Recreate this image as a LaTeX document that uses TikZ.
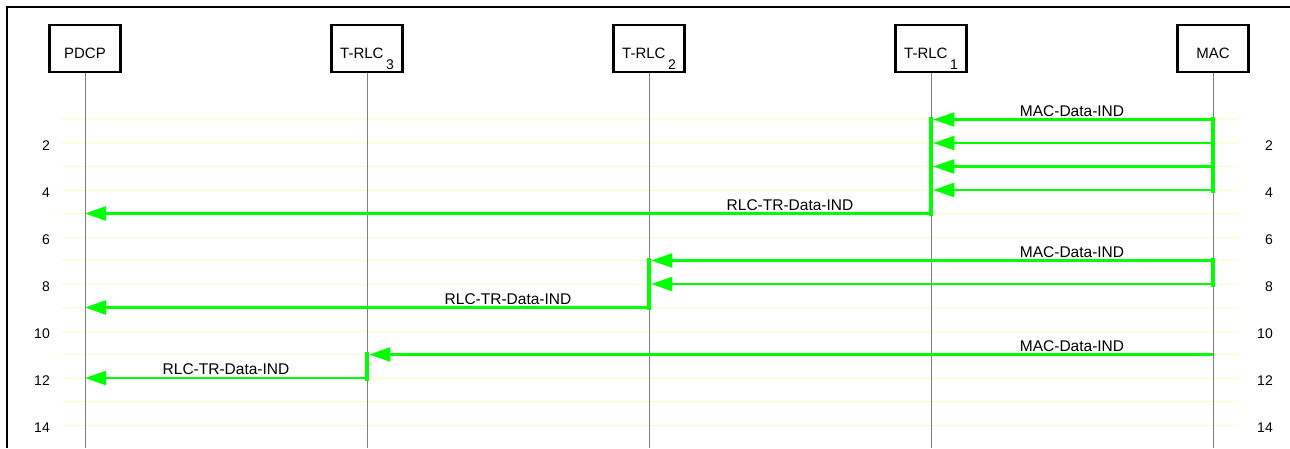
\documentclass[tikz,border=0pt]{standalone}
\usepackage{fontspec}
\setmainfont{Liberation Sans}
\usetikzlibrary{arrows.meta,calc}
\definecolor{msggreen}{HTML}{00FF00}
\definecolor{rowyellow}{HTML}{FFFFC4}
\definecolor{lifegray}{HTML}{808080}
\newcommand{\rlcname}[1]{T-RLC\hspace{2.5pt}\raisebox{-10.5pt}{\fontsize{14}{14}\selectfont #1}}

\begin{document}
\begin{tikzpicture}[
  x=1pt,
  y=-1pt,
  every node/.style={font=\fontsize{15}{18}\selectfont},
  entity/.style={draw, line width=2.2pt, minimum width=71pt, minimum height=47pt,
                 text height=22pt, text depth=2pt, inner sep=0pt},
  lifeline/.style={lifegray, line width=0.9pt},
  rowline/.style={rowyellow, line width=0.8pt},
  rownum/.style={anchor=east, inner sep=0pt, font=\fontsize{14}{16}\selectfont},
  msg/.style={msggreen, line width=2.4pt, -{Triangle[length=21pt, width=14pt]}},
  actbar/.style={fill=msggreen},
  msglabel/.style={anchor=south, inner sep=3pt, font=\fontsize{15.5}{18}\selectfont}
]
  \useasboundingbox (0,0) rectangle (1290,448);

  %% ---- frame and rows ---------------------------------------------------
  \draw[line width=2.6pt] (7,448) -- (7,7) -- (1290,7);
  \coordinate (bottom) at (0,448);

  \foreach \r in {1,...,14}{
    \pgfmathsetmacro{\ry}{119.5+(\r-1)*23.5}
    \coordinate (r\r) at (0,\ry);
    \draw[rowline] (60,\ry) -- (1238,\ry);
  }
  \foreach \r in {2,4,...,14}{
    \pgfmathsetmacro{\ry}{119.5+(\r-1)*23.5+3}
    \node[rownum] (numl\r) at (50,\ry) {\r};
    \node[rownum] (numr\r) at (1273,\ry) {\r};
  }

  %% ---- entities and lifelines --------------------------------------------
  \node[entity] (pdcp) at (85,48.5) {PDCP};
  \node[entity] (rlc3) at (367,48.5) {\rlcname{3}};
  \node[entity] (rlc2) at (649,48.5) {\rlcname{2}};
  \node[entity] (rlc1) at (931,48.5) {\rlcname{1}};
  \node[entity] (mac) at (1213,48.5) {MAC};

  \foreach \e in {pdcp,rlc3,rlc2,rlc1,mac}
    \draw[lifeline] (\e.south) -- (\e.south |- bottom);

  %% ---- T-RLC 1 -----------------------------------------------------------
  \foreach \r in {1,...,4}
    \draw[msg] ([xshift=-2.25pt]mac |- r\r) -- ([xshift=2.25pt]rlc1 |- r\r);
  \node[msglabel] (lab1) at ($(mac |- r1)!0.5!(rlc1 |- r1)$) {MAC-Data-IND};
  \draw[msg] (rlc1 |- r5) -- (pdcp |- r5);
  \node[msglabel] (lab5) at ($(rlc1 |- r5)!0.5!(rlc2 |- r5)$) {RLC-TR-Data-IND};
  \fill[actbar] ([xshift=-2.25pt, yshift=2.5pt]mac |- r1) rectangle ([xshift=2.25pt, yshift=-2.5pt]mac |- r4);
  \fill[actbar] ([xshift=-2.25pt, yshift=2.5pt]rlc1 |- r1) rectangle ([xshift=2.25pt, yshift=-2.5pt]rlc1 |- r5);

  %% ---- T-RLC 2 -----------------------------------------------------------
  \foreach \r in {7,8}
    \draw[msg] ([xshift=-2.25pt]mac |- r\r) -- ([xshift=2.25pt]rlc2 |- r\r);
  \node[msglabel] (lab7) at ($(mac |- r7)!0.5!(rlc1 |- r7)$) {MAC-Data-IND};
  \draw[msg] (rlc2 |- r9) -- (pdcp |- r9);
  \node[msglabel] (lab9) at ($(rlc2 |- r9)!0.5!(rlc3 |- r9)$) {RLC-TR-Data-IND};
  \fill[actbar] ([xshift=-2.25pt, yshift=2.5pt]mac |- r7) rectangle ([xshift=2.25pt, yshift=-2.5pt]mac |- r8);
  \fill[actbar] ([xshift=-2.25pt, yshift=2.5pt]rlc2 |- r7) rectangle ([xshift=2.25pt, yshift=-2.5pt]rlc2 |- r9);

  %% ---- T-RLC 3 -----------------------------------------------------------
  \draw[msg] (mac |- r11) -- ([xshift=2.25pt]rlc3 |- r11);
  \node[msglabel] (lab11) at ($(mac |- r11)!0.5!(rlc1 |- r11)$) {MAC-Data-IND};
  \draw[msg] (rlc3 |- r12) -- (pdcp |- r12);
  \node[msglabel] (lab12) at ($(rlc3 |- r12)!0.5!(pdcp |- r12)$) {RLC-TR-Data-IND};
  \fill[actbar] ([xshift=-2.25pt, yshift=2.5pt]rlc3 |- r11) rectangle ([xshift=2.25pt, yshift=-2.5pt]rlc3 |- r12);

\end{tikzpicture}
\end{document}
